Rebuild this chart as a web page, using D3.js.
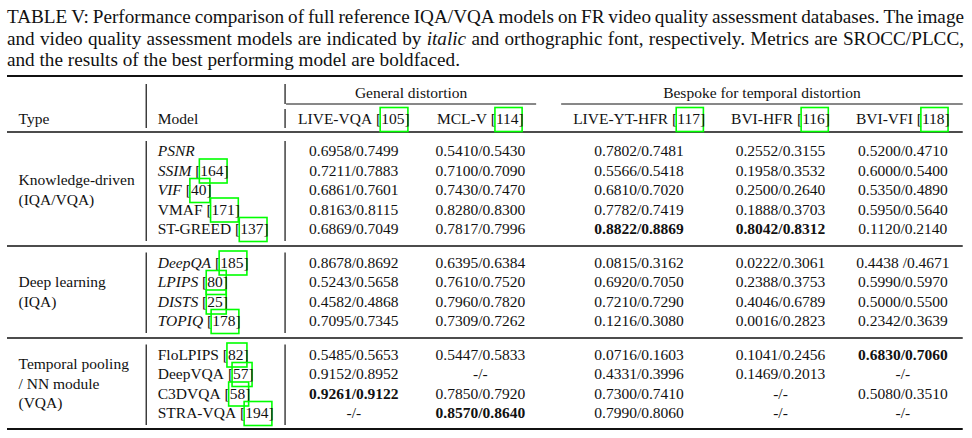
<!DOCTYPE html>
<html><head><meta charset="utf-8">
<script src="https://cdn.jsdelivr.net/npm/d3@7"></script>
<style>
body{margin:0;background:#fff}
svg{display:block}
text{font-family:"Liberation Serif","Times New Roman",Times,serif;fill:#111}
</style>
</head><body>
<svg id="c" width="972" height="438"></svg>
<script>
// ---------------- data ----------------
const caption = [
  "TABLE V: Performance comparison of full reference IQA/VQA models on FR video quality assessment databases. The image",
  "and video quality assessment models are indicated by italic and orthographic font, respectively. Metrics are SROCC/PLCC,",
  "and the results of the best performing model are boldfaced."
];
const captionItalic = ["italic"];

const headerLabels = ["Type", "Model"];
const groupLabels = [["Knowledge-driven","(IQA/VQA)"],["Deep learning","(IQA)"],["Temporal pooling","/ NN module","(VQA)"]];
const groupSizes = [5, 4, 4];
const models = ["PSNR","SSIM","VIF","VMAF","ST-GREED","DeepQA","LPIPS","DISTS","TOPIQ","FloLPIPS","DeepVQA","C3DVQA","STRA-VQA"];
const modelRefs = [null,"164","40","171","137","185","80","25","178","82","57","58","194"];
const italicModels = ["PSNR","SSIM","VIF","DeepQA","LPIPS","DISTS","TOPIQ"];

const datasets = ["LIVE-VQA","MCL-V","LIVE-YT-HFR","BVI-HFR","BVI-VFI"];
const datasetRefs = ["105","114","117","116","118"];
const datasetGroups = ["General distortion","Bespoke for temporal distortion"];

const liveVQA = ["0.6958/0.7499","0.7211/0.7883","0.6861/0.7601","0.8163/0.8115","0.6869/0.7049","0.8678/0.8692","0.5243/0.5658","0.4582/0.4868","0.7095/0.7345","0.5485/0.5653","0.9152/0.8952","0.9261/0.9122","-/-"];
const mclV    = ["0.5410/0.5430","0.7100/0.7090","0.7430/0.7470","0.8280/0.8300","0.7817/0.7996","0.6395/0.6384","0.7610/0.7520","0.7960/0.7820","0.7309/0.7262","0.5447/0.5833","-/-","0.7850/0.7920","0.8570/0.8640"];
const liveYT  = ["0.7802/0.7481","0.5566/0.5418","0.6810/0.7020","0.7782/0.7419","0.8822/0.8869","0.0815/0.3162","0.6920/0.7050","0.7210/0.7290","0.1216/0.3080","0.0716/0.1603","0.4331/0.3996","0.7300/0.7410","0.7990/0.8060"];
const bviHFR  = ["0.2552/0.3155","0.1958/0.3532","0.2500/0.2640","0.1888/0.3703","0.8042/0.8312","0.0222/0.3061","0.2388/0.3753","0.4046/0.6789","0.0016/0.2823","0.1041/0.2456","0.1469/0.2013","-/-","-/-"];
const bviVFI  = ["0.5200/0.4710","0.6000/0.5400","0.5350/0.4890","0.5950/0.5640","0.1120/0.2140","0.4438 /0.4671","0.5990/0.5970","0.5000/0.5500","0.2342/0.3639","0.6830/0.7060","-/-","0.5080/0.3510","-/-"];
const columns = [liveVQA, mclV, liveYT, bviHFR, bviVFI];
const best = [["ST-GREED","LIVE-YT-HFR"],["ST-GREED","BVI-HFR"],["FloLPIPS","BVI-VFI"],["C3DVQA","LIVE-VQA"],["STRA-VQA","MCL-V"]];

// ---------------- layout constants ----------------
const CAP = 19.2, FONT = 15.5, SEP = 11.5, DATA_SEP = 13, SPACER = 22;
const LEFT = 7, CAP_RIGHT = 964;
const CITE = "#00ff00", INK = "#111";

const svg = d3.select("#c");
const mg = svg.append("g").attr("visibility","hidden");
function measure(str, o = {}) {
  const t = mg.append("text").attr("font-size", o.size || FONT)
    .attr("font-style", o.italic ? "italic" : null)
    .attr("font-weight", o.bold ? "bold" : null)
    .style("white-space","pre").text(str);
  const w = t.node().getComputedTextLength();
  t.remove();
  return w;
}
function partsWidth(parts) { return d3.sum(parts, p => measure(p.t, p)); }
function drawParts(g, parts, x, y) {
  let cx = x;
  parts.forEach(p => {
    const w = measure(p.t, p);
    g.append("text").attr("x", cx).attr("y", y).attr("font-size", p.size || FONT)
      .attr("font-style", p.italic ? "italic" : null)
      .attr("font-weight", p.bold ? "bold" : null)
      .style("white-space","pre").text(p.t);
    if (p.cite) {
      g.append("rect").attr("x", cx - 1).attr("y", y - 16.5)
        .attr("width", w + 4.5).attr("height", 24)
        .attr("fill","none").attr("stroke", CITE).attr("stroke-width", 1.6);
    }
    cx += w;
  });
}
const citeParts = (name, ref, italic) => ref
  ? [{t:name, italic}, {t:" ["}, {t:ref, cite:true}, {t:"]"}]
  : [{t:name, italic}];

// ---------------- caption ----------------
const capY = d3.scaleLinear().domain([0,1]).range([23, 44.5]);
const capG = svg.append("g");
const spaceW = measure("a b",{size:CAP}) - measure("ab",{size:CAP});
caption.forEach((line, i) => {
  const words = line.split(" ");
  const ws = words.map(w => measure(w, {size:CAP, italic: captionItalic.includes(w)}));
  const total = d3.sum(ws);
  const gap = i < caption.length - 1 ? (CAP_RIGHT - LEFT - total) / (words.length - 1) : spaceW;
  let x = LEFT;
  words.forEach((w, k) => {
    capG.append("text").attr("x", x).attr("y", capY(i)).attr("font-size", CAP)
      .attr("font-style", captionItalic.includes(w) ? "italic" : null).text(w);
    x += ws[k] + gap;
  });
});

// ---------------- column widths (LaTeX-like) ----------------
const isBest = (m, d) => best.some(b => b[0] === m && b[1] === d);
const col0W = d3.max([headerLabels[0], ...groupLabels.flat()], s => measure(s)) + 2*SEP;
const col1W = d3.max([measure(headerLabels[1]), ...models.map((m,i) => partsWidth(citeParts(m, modelRefs[i], italicModels.includes(m))))]) + 2*SEP;
const dataW = datasets.map((d, j) => d3.max([
  partsWidth(citeParts(d, datasetRefs[j], false)),
  ...columns[j].map((v, i) => measure(v, {bold: isBest(models[i], d)}))
]) + 2*DATA_SEP);
const colLeft = [LEFT, LEFT + col0W];
let xc = LEFT + col0W + col1W;
dataW.forEach((w, j) => { if (j === 2) xc += SPACER; colLeft.push(xc); xc += w; });
const RIGHT = xc;
const colCenter = j => colLeft[j + 2] + dataW[j] / 2;

// ---------------- rows ----------------
const GAP = 14, ROWH = 19.5;
const rowY = d3.scaleLinear().domain([0,1]).range([156, 156 + ROWH]);
const rowSlot = [];
let gi = 0, cnt = 0;
models.forEach((m, i) => {
  rowSlot.push(i + gi * GAP / ROWH);
  cnt++; if (cnt === groupSizes[gi]) { gi++; cnt = 0; }
});
const groupStart = groupSizes.map((s, g) => d3.sum(groupSizes.slice(0, g)));
const groupFirstY = groupStart.map(s => rowY(rowSlot[s]));
const groupLastY = groupStart.map((s, g) => rowY(rowSlot[s + groupSizes[g] - 1]));

const tbl = svg.append("g").attr("fill", INK);

// rules
const TOP_RULE = 76, CMID = 104, HEAD_MID = 132, HEAD1 = 98, HEAD2 = 124;
const hline = (x1, x2, y, w) => tbl.append("line").attr("x1", x1).attr("x2", x2).attr("y1", y).attr("y2", y)
  .attr("stroke", INK).attr("stroke-width", w);
const vline = (x, y1, y2) => tbl.append("line").attr("x1", x).attr("x2", x).attr("y1", y1).attr("y2", y2)
  .attr("stroke", INK).attr("stroke-width", 1.2);

hline(LEFT, RIGHT, TOP_RULE, 2);
hline(LEFT, RIGHT, HEAD_MID, 1.4);
groupLastY.forEach((y, g) => {
  const last = g === groupLastY.length - 1;
  hline(LEFT, RIGHT, y + (last ? 11 : 12), last ? 2 : 1.4);
});
const cm1 = [colLeft[2] + 1, colLeft[3] + dataW[1] - 2];
const cm2 = [colLeft[4] + 1, RIGHT];
hline(cm1[0], cm1[1], CMID, 1);
hline(cm2[0], cm2[1], CMID, 1);

const v0 = colLeft[1], v1 = colLeft[2];
vline(v0, 84, 128);
vline(v1, 84, CMID);
vline(v1, CMID + 5, 128);
groupFirstY.forEach((y, g) => {
  vline(v0, y - 15, groupLastY[g] + 7);
  vline(v1, y - 15, groupLastY[g] + 7);
});

// header
tbl.append("text").attr("x", colLeft[0] + SEP).attr("y", HEAD2).attr("font-size", FONT).text(headerLabels[0]);
tbl.append("text").attr("x", colLeft[1] + SEP).attr("y", HEAD2).attr("font-size", FONT).text(headerLabels[1]);
datasetGroups.forEach((name, k) => {
  const span = k === 0 ? cm1 : cm2;
  tbl.append("text").attr("x", (span[0] + span[1]) / 2).attr("y", HEAD1).attr("font-size", FONT)
    .attr("text-anchor","middle").text(name);
});
datasets.forEach((d, j) => {
  const parts = citeParts(d, datasetRefs[j], false);
  drawParts(tbl, parts, colCenter(j) - partsWidth(parts) / 2, HEAD2);
});

// group labels
groupLabels.forEach((lines, g) => {
  const mid = (groupFirstY[g] + groupLastY[g]) / 2;
  lines.forEach((s, k) => {
    tbl.append("text").attr("x", colLeft[0] + SEP).attr("y", mid + (k - (lines.length - 1) / 2) * ROWH)
      .attr("font-size", FONT).text(s);
  });
});

// model names
models.forEach((m, i) => {
  drawParts(tbl, citeParts(m, modelRefs[i], italicModels.includes(m)), colLeft[1] + SEP, rowY(rowSlot[i]));
});

// data cells
columns.forEach((col, j) => {
  col.forEach((v, i) => {
    const b = isBest(models[i], datasets[j]);
    tbl.append("text").attr("x", colCenter(j)).attr("y", rowY(rowSlot[i]))
      .attr("text-anchor","middle")
      .attr("font-size", FONT).attr("font-weight", b ? "bold" : null)
      .style("white-space","pre").text(v);
  });
});
</script>
</body></html>
